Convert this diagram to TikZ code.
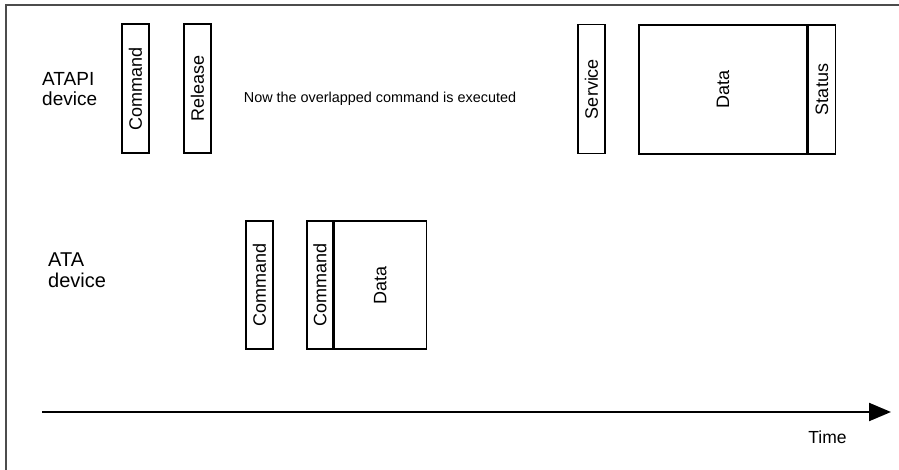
\documentclass[tikz,border=0pt]{standalone}
\usepackage{fontspec}
\setmainfont{Liberation Sans}
\usetikzlibrary{arrows.meta}
\begin{document}
\begin{tikzpicture}[x=1pt,y=-1pt,
  frameline/.style={draw=black!70,line width=1.3pt},
  blk/.style={draw=black,line width=1.3pt,inner sep=0pt,minimum width=27pt,minimum height=129pt,font=\fontsize{18}{18}\selectfont},
  side/.style={font=\fontsize{19}{20.5}\selectfont,align=left,anchor=west,inner sep=0pt},
  timeaxis/.style={line width=2.2pt,-{Triangle[length=22pt,width=18pt]}}
]
\useasboundingbox (0,0) rectangle (899,470);
\coordinate (fTR) at (899,5);
\coordinate (fTL) at (6,5);
\coordinate (fBL) at (6,470);
\draw[frameline] (fTR) -- (fTL) -- (fBL);

\node[side] (atapi) at (42,89) {ATAPI\\device};
\node[side,font=\fontsize{20}{20.5}\selectfont] (ata) at (48,270) {ATA\\device};

\node[blk] (cmd1) at (135.5,88.5) {\rotatebox{90}{Command}};
\node[blk] (rel) at (197.5,88.5) {\rotatebox{90}{Release}};
\node[font=\fontsize{14.4}{16}\selectfont,inner sep=0pt] (now) at (380,99) {Now the overlapped command is executed};
\node[blk] (serv) at (591.5,89) {\rotatebox{90}{Service}};
\node[blk,minimum width=168pt] (data1) at (723,89.5) {\rotatebox{90}{Data}};
\node[blk,anchor=west] (stat) at (data1.east) {\rotatebox{90}{Status}};

\node[blk,minimum height=128pt] (cmd2) at (259.5,285) {\rotatebox{90}{Command}};
\node[blk,minimum height=128pt,minimum width=26pt] (cmd3) at (320,285) {\rotatebox{90}{Command}};
\node[blk,minimum height=128pt,minimum width=92pt,anchor=west] (data2) at (cmd3.east) {\rotatebox{90}{Data}};

\coordinate (tstart) at (42,412);
\coordinate (tend) at (891,412);
\draw[timeaxis] (tstart) -- (tend);
\node[font=\fontsize{17.5}{20}\selectfont,inner sep=0pt] (time) at (827.5,437) {Time};
\end{tikzpicture}
\end{document}
